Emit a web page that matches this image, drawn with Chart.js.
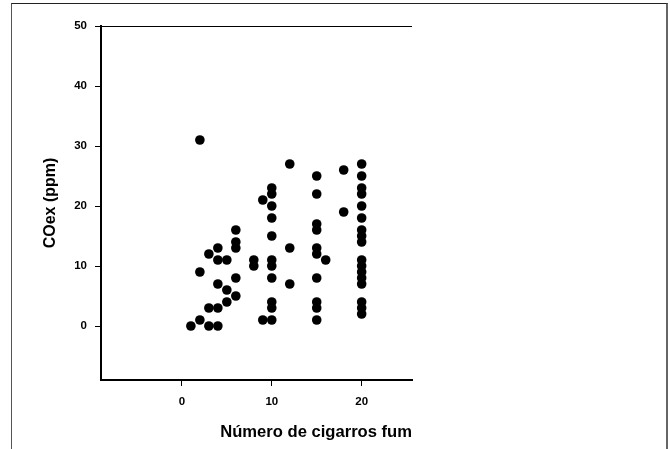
<!DOCTYPE html>
<html>
<head>
<meta charset="utf-8">
<script src="https://cdn.jsdelivr.net/npm/chart.js@4"></script>
<style>
  html, body { margin: 0; padding: 0; background: #fff; overflow: hidden; width: 670px; height: 449px; }
  #frame { position: absolute; left: 11px; top: 3px; width: 657px; height: 470px; box-sizing: border-box;
           border-top: 1px solid #222; border-left: 1px solid #555; border-right: 2px solid #666; }
  #wrap { position: absolute; left: 0; top: 0; width: 670px; height: 449px; }
</style>
</head>
<body>
<div id="frame"></div>
<div id="wrap"><canvas id="coexChart"></canvas></div>
<script>
// cigarettes smoked (x) and exhaled CO in ppm (y), one entry per subject
const cigarros = [
  1,
  2, 2, 2,
  3, 3, 3,
  4, 4, 4, 4, 4,
  5, 5, 5,
  6, 6, 6, 6, 6,
  8, 8,
  9, 9,
  10, 10, 10, 10, 10, 10, 10, 10, 10, 10, 10,
  12, 12, 12,
  15, 15, 15, 15, 15, 15, 15, 15, 15, 15,
  16,
  18, 18,
  20, 20, 20, 20, 20, 20, 20, 20, 20, 20, 20, 20, 20, 20, 20, 20, 20
];
const coex = [
  0,
  31, 9, 1,
  12, 3, 0,
  13, 11, 7, 3, 0,
  11, 6, 4,
  16, 14, 13, 8, 5,
  11, 10,
  21, 1,
  23, 22, 20, 18, 15, 11, 10, 8, 4, 3, 1,
  27, 13, 7,
  25, 22, 17, 16, 13, 12, 8, 4, 3, 1,
  11,
  26, 19,
  27, 25, 23, 22, 20, 18, 16, 15, 14, 11, 10, 9, 8, 7, 4, 3, 2
];
const xTicks = [0, 10, 20];
const yTicks = [0, 10, 20, 30, 40, 50];

const tickFont = { family: 'Liberation Sans', size: 11.5, weight: 'bold' };
const titleFont = { family: 'Liberation Sans', size: 16, weight: 'bold' };

function initCoexChart() {
  const ctx = document.getElementById('coexChart');
  new Chart(ctx, {
    type: 'scatter',
    data: {
      datasets: [{
        data: cigarros.map((x, i) => ({ x: x, y: coex[i] })),
        backgroundColor: '#000',
        borderColor: '#000',
        borderWidth: 0,
        pointRadius: 4.8,
        pointHoverRadius: 4.8,
      }]
    },
    options: {
      responsive: true,
      maintainAspectRatio: false,
      animation: false,
      layout: { padding: { left: 30, top: 26, right: 258, bottom: 0 } },
      scales: {
        x: {
          type: 'linear', min: -9, max: 25.6,
          afterBuildTicks: s => { s.ticks = xTicks.map(v => ({ value: v })); },
          afterFit: s => { s.height = 69; },
          border: { color: '#000', width: 2 },
          grid: { drawOnChartArea: false, color: '#000', tickColor: '#000', tickLength: 6 },
          ticks: { color: '#000', font: tickFont, padding: 9, maxRotation: 0 },
          title: { display: true, text: 'Número de cigarros fum', align: 'end', color: '#000',
                   font: { family: 'Liberation Sans', size: 16.6, weight: 'bold' }, padding: { top: 0, bottom: 7 } }
        },
        y: {
          type: 'linear', min: -9, max: 50,
          afterBuildTicks: s => { s.ticks = yTicks.map(v => ({ value: v })); },
          afterFit: s => { s.width = 71; },
          border: { color: '#000', width: 2 },
          grid: { color: c => (c.tick && c.tick.value === 50) ? '#000' : 'rgba(0,0,0,0)', tickColor: '#000', tickLength: 6 },
          ticks: { color: '#000', font: tickFont, padding: 8 },
          title: { display: true, text: 'COex (ppm)', color: '#000', font: titleFont, padding: { top: 11, bottom: 0 } }
        }
      },
      plugins: {
        legend: { display: false },
        tooltip: { enabled: false }
      }
    }
  });
}

document.addEventListener('DOMContentLoaded', initCoexChart);
</script>
</body>
</html>
